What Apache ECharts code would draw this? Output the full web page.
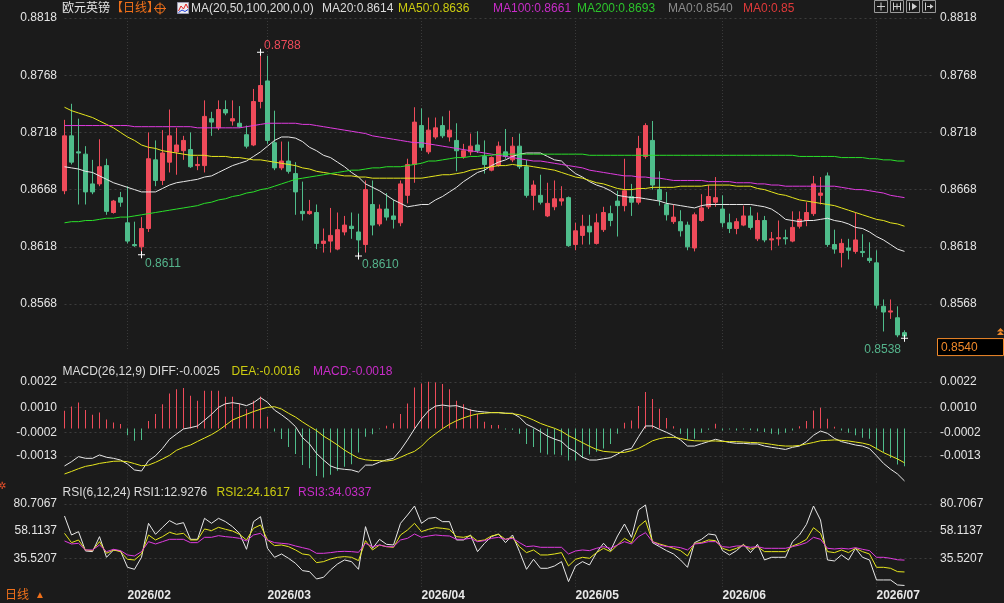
<!DOCTYPE html>
<html>
<head>
<meta charset="utf-8">
<script src="https://cdn.jsdelivr.net/npm/echarts@6/dist/echarts.min.js"></script>
<style>
html,body{margin:0;padding:0;background:#1b1b1b;}
#chart{width:1004px;height:603px;}
</style>
</head>
<body>
<div id="chart"></div>
<script>
// 交易日
const dates = [
  '2026/01/20','2026/01/21','2026/01/22','2026/01/23','2026/01/26','2026/01/27','2026/01/28','2026/01/29','2026/01/30',
  '2026/02/02','2026/02/03','2026/02/04','2026/02/05','2026/02/06','2026/02/09','2026/02/10','2026/02/11','2026/02/12','2026/02/13',
  '2026/02/16','2026/02/17','2026/02/18','2026/02/19','2026/02/20','2026/02/23','2026/02/24','2026/02/25','2026/02/26','2026/02/27',
  '2026/03/02','2026/03/03','2026/03/04','2026/03/05','2026/03/06','2026/03/09','2026/03/10','2026/03/11','2026/03/12','2026/03/13',
  '2026/03/16','2026/03/17','2026/03/18','2026/03/19','2026/03/20','2026/03/23','2026/03/24','2026/03/25','2026/03/26','2026/03/27',
  '2026/03/30','2026/03/31',
  '2026/04/01','2026/04/02','2026/04/03','2026/04/06','2026/04/07','2026/04/08','2026/04/09','2026/04/10','2026/04/13','2026/04/14',
  '2026/04/15','2026/04/16','2026/04/17','2026/04/20','2026/04/21','2026/04/22','2026/04/23','2026/04/24','2026/04/27','2026/04/28',
  '2026/04/29','2026/04/30',
  '2026/05/01','2026/05/04','2026/05/05','2026/05/06','2026/05/07','2026/05/08','2026/05/11','2026/05/12','2026/05/13','2026/05/14',
  '2026/05/15','2026/05/18','2026/05/19','2026/05/20','2026/05/21','2026/05/22','2026/05/25','2026/05/26','2026/05/27','2026/05/28',
  '2026/05/29',
  '2026/06/01','2026/06/02','2026/06/03','2026/06/04','2026/06/05','2026/06/08','2026/06/09','2026/06/10','2026/06/11','2026/06/12',
  '2026/06/15','2026/06/16','2026/06/17','2026/06/18','2026/06/19','2026/06/22','2026/06/23','2026/06/24','2026/06/25','2026/06/26',
  '2026/06/29','2026/06/30',
  '2026/07/01','2026/07/02','2026/07/03','2026/07/06','2026/07/07'
];

// K线
const opens = [
  0.8667,0.8715,0.8701,0.8699,0.8673,0.8673,0.8689,0.8648,0.8661,0.8639,
  0.8620,0.8618,0.8634,0.8694,0.8676,0.8692,0.8701,0.8702,0.8703,0.8689,
  0.8689,0.8730,0.8722,0.8738,0.8728,0.8726,0.8716,0.8707,0.8745,0.8763,
  0.8709,0.8687,0.8693,0.8682,0.8649,0.8647,0.8648,0.8621,0.8623,0.8616,
  0.8631,0.8636,0.8631,0.8620,0.8655,0.8638,0.8651,0.8645,0.8639,0.8663,
  0.8690,0.8724,0.8701,0.8714,0.8724,0.8714,0.8711,0.8697,0.8701,0.8707,
  0.8697,0.8685,0.8689,0.8701,0.8694,0.8706,0.8688,0.8663,0.8663,0.8645,
  0.8653,0.8658,0.8661,0.8620,0.8628,0.8636,0.8621,0.8633,0.8647,0.8658,
  0.8654,0.8662,0.8657,0.8697,0.8711,0.8668,0.8655,0.8640,0.8640,0.8637,
  0.8617,0.8641,0.8653,0.8657,0.8651,0.8639,0.8634,0.8637,0.8645,0.8625,
  0.8641,0.8624,0.8625,0.8626,0.8623,0.8636,0.8641,0.8647,0.8663,0.8680,
  0.8620,0.8613,0.8617,0.8614,0.8614,0.8608,0.8604,0.8566,0.8561,0.8556,
  0.8543
];
const closes = [
  0.8715,0.8692,0.8700,0.8666,0.8666,0.8688,0.8649,0.8658,0.8657,0.8623,
  0.8619,0.8634,0.8695,0.8676,0.8700,0.8715,0.8707,0.8711,0.8688,0.8690,
  0.8732,0.8727,0.8738,0.8735,0.8730,0.8723,0.8706,0.8745,0.8759,0.8711,
  0.8687,0.8693,0.8684,0.8666,0.8647,0.8649,0.8621,0.8623,0.8628,0.8633,
  0.8637,0.8634,0.8624,0.8668,0.8637,0.8651,0.8644,0.8642,0.8673,0.8690,
  0.8727,0.8705,0.8720,0.8722,0.8715,0.8720,0.8702,0.8702,0.8706,0.8702,
  0.8690,0.8696,0.8706,0.8697,0.8706,0.8688,0.8663,0.8672,0.8657,0.8656,
  0.8660,0.8660,0.8619,0.8632,0.8636,0.8631,0.8639,0.8648,0.8641,0.8654,
  0.8667,0.8657,0.8704,0.8724,0.8672,0.8659,0.8646,0.8644,0.8632,0.8618,
  0.8646,0.8652,0.8662,0.8661,0.8639,0.8634,0.8640,0.8645,0.8635,0.8641,
  0.8624,0.8625,0.8626,0.8625,0.8635,0.8642,0.8648,0.8673,0.8665,0.8620,
  0.8616,0.8621,0.8615,0.8624,0.8613,0.8606,0.8567,0.8561,0.8562,0.8541,
  0.8540
];
const lows = [
  0.8664,0.8690,0.8655,0.8655,0.8664,0.8671,0.8646,0.8647,0.8653,0.8621,
  0.8618,0.8611,0.8631,0.8671,0.8672,0.8683,0.8681,0.8694,0.8687,0.8685,
  0.8683,0.8715,0.8720,0.8733,0.8724,0.8722,0.8704,0.8706,0.8739,0.8708,
  0.8685,0.8685,0.8682,0.8646,0.8641,0.8646,0.8616,0.8613,0.8613,0.8615,
  0.8628,0.8625,0.8610,0.8613,0.8628,0.8636,0.8641,0.8634,0.8636,0.8656,
  0.8674,0.8702,0.8699,0.8712,0.8713,0.8710,0.8684,0.8695,0.8698,0.8700,
  0.8682,0.8684,0.8688,0.8695,0.8692,0.8686,0.8661,0.8650,0.8655,0.8644,
  0.8650,0.8654,0.8618,0.8615,0.8620,0.8620,0.8620,0.8631,0.8636,0.8627,
  0.8649,0.8645,0.8655,0.8695,0.8668,0.8654,0.8641,0.8638,0.8627,0.8615,
  0.8614,0.8640,0.8651,0.8653,0.8635,0.8630,0.8629,0.8636,0.8633,0.8623,
  0.8622,0.8615,0.8619,0.8620,0.8622,0.8634,0.8636,0.8645,0.8655,0.8618,
  0.8612,0.8600,0.8607,0.8612,0.8609,0.8604,0.8564,0.8544,0.8555,0.8539,
  0.8538
];
const highs = [
  0.8729,0.8743,0.8730,0.8706,0.8694,0.8712,0.8695,0.8659,0.8666,0.8671,
  0.8640,0.8644,0.8718,0.8711,0.8720,0.8738,0.8722,0.8715,0.8718,0.8697,
  0.8746,0.8736,0.8746,0.8746,0.8746,0.8741,0.8724,0.8756,0.8788,0.8785,
  0.8737,0.8710,0.8710,0.8692,0.8675,0.8659,0.8655,0.8634,0.8652,0.8648,
  0.8645,0.8648,0.8647,0.8676,0.8676,0.8655,0.8665,0.8659,0.8676,0.8695,
  0.8740,0.8739,0.8731,0.8731,0.8732,0.8737,0.8726,0.8708,0.8717,0.8719,
  0.8711,0.8697,0.8710,0.8721,0.8714,0.8717,0.8694,0.8676,0.8681,0.8674,
  0.8676,0.8671,0.8662,0.8639,0.8646,0.8646,0.8647,0.8653,0.8654,0.8667,
  0.8695,0.8673,0.8715,0.8726,0.8728,0.8684,0.8666,0.8655,0.8650,0.8640,
  0.8648,0.8664,0.8672,0.8679,0.8663,0.8647,0.8643,0.8654,0.8653,0.8648,
  0.8645,0.8631,0.8641,0.8633,0.8649,0.8649,0.8657,0.8680,0.8679,0.8683,
  0.8633,0.8625,0.8625,0.8648,0.8629,0.8622,0.8615,0.8572,0.8572,0.8566,
  0.8545
];

// 均线
const ma20 = [
  0.8688,0.8687,0.8686,0.8684,0.8683,0.8680,0.8677,0.8674,0.8672,0.8670,
  0.8668,0.8666,0.8666,0.8666,0.8669,0.8672,0.8674,0.8675,0.8676,0.8677,
  0.8679,0.8680,0.8683,0.8686,0.8689,0.8691,0.8693,0.8697,0.8701,0.8706,
  0.8711,0.8714,0.8714,0.8713,0.8710,0.8705,0.8702,0.8698,0.8696,0.8692,
  0.8688,0.8683,0.8679,0.8673,0.8670,0.8667,0.8663,0.8659,0.8656,0.8653,
  0.8654,0.8655,0.8655,0.8659,0.8662,0.8666,0.8670,0.8675,0.8679,0.8683,
  0.8685,0.8689,0.8692,0.8694,0.8697,0.8699,0.8700,0.8700,0.8700,0.8697,
  0.8694,0.8693,0.8687,0.8682,0.8679,0.8675,0.8672,0.8670,0.8667,0.8663,
  0.8662,0.8661,0.8661,0.8660,0.8659,0.8658,0.8656,0.8655,0.8654,0.8653,
  0.8652,0.8654,0.8655,0.8655,0.8655,0.8655,0.8655,0.8655,0.8655,0.8654,
  0.8653,0.8651,0.8647,0.8642,0.8641,0.8640,0.8641,0.8641,0.8642,0.8643,
  0.8641,0.8640,0.8638,0.8635,0.8634,0.8631,0.8627,0.8624,0.8620,0.8616,
  0.8614
];
const ma50 = [
  0.8740,0.8737,0.8735,0.8733,0.8731,0.8728,0.8725,0.8722,0.8718,0.8714,
  0.8711,0.8707,0.8705,0.8704,0.8702,0.8701,0.8700,0.8699,0.8698,0.8698,
  0.8698,0.8697,0.8697,0.8697,0.8696,0.8696,0.8695,0.8694,0.8694,0.8693,
  0.8692,0.8691,0.8690,0.8689,0.8687,0.8686,0.8684,0.8683,0.8682,0.8681,
  0.8680,0.8680,0.8679,0.8679,0.8678,0.8678,0.8678,0.8678,0.8678,0.8678,
  0.8678,0.8678,0.8679,0.8680,0.8681,0.8681,0.8682,0.8683,0.8685,0.8686,
  0.8687,0.8688,0.8689,0.8689,0.8690,0.8689,0.8689,0.8688,0.8687,0.8686,
  0.8685,0.8683,0.8681,0.8679,0.8678,0.8676,0.8674,0.8673,0.8671,0.8669,
  0.8668,0.8668,0.8669,0.8669,0.8670,0.8670,0.8670,0.8670,0.8671,0.8671,
  0.8671,0.8671,0.8672,0.8672,0.8672,0.8672,0.8671,0.8671,0.8671,0.8669,
  0.8668,0.8666,0.8664,0.8663,0.8661,0.8659,0.8658,0.8657,0.8656,0.8655,
  0.8654,0.8652,0.8650,0.8648,0.8646,0.8644,0.8642,0.8641,0.8639,0.8638,
  0.8636
];
const ma100 = [
  0.8724,0.8724,0.8724,0.8724,0.8724,0.8724,0.8724,0.8724,0.8724,0.8724,
  0.8723,0.8723,0.8723,0.8723,0.8723,0.8723,0.8723,0.8723,0.8723,0.8722,
  0.8722,0.8722,0.8722,0.8722,0.8722,0.8722,0.8723,0.8724,0.8725,0.8726,
  0.8726,0.8726,0.8726,0.8726,0.8725,0.8725,0.8724,0.8723,0.8722,0.8721,
  0.8720,0.8719,0.8718,0.8717,0.8715,0.8714,0.8713,0.8712,0.8711,0.8710,
  0.8709,0.8709,0.8708,0.8707,0.8706,0.8705,0.8704,0.8703,0.8702,0.8701,
  0.8700,0.8699,0.8698,0.8697,0.8696,0.8695,0.8694,0.8693,0.8693,0.8692,
  0.8691,0.8690,0.8689,0.8688,0.8687,0.8685,0.8684,0.8683,0.8682,0.8681,
  0.8680,0.8680,0.8679,0.8679,0.8678,0.8678,0.8677,0.8676,0.8676,0.8676,
  0.8676,0.8676,0.8675,0.8675,0.8675,0.8675,0.8674,0.8674,0.8674,0.8673,
  0.8673,0.8672,0.8672,0.8671,0.8671,0.8671,0.8671,0.8671,0.8671,0.8671,
  0.8671,0.8670,0.8669,0.8668,0.8668,0.8667,0.8666,0.8665,0.8663,0.8662,
  0.8661
];
const ma200 = [
  0.8639,0.8640,0.8640,0.8641,0.8641,0.8642,0.8643,0.8643,0.8644,0.8644,
  0.8645,0.8646,0.8647,0.8648,0.8649,0.8650,0.8651,0.8652,0.8653,0.8654,
  0.8656,0.8657,0.8659,0.8660,0.8662,0.8663,0.8665,0.8666,0.8668,0.8669,
  0.8671,0.8673,0.8675,0.8677,0.8678,0.8679,0.8680,0.8681,0.8682,0.8683,
  0.8684,0.8685,0.8685,0.8686,0.8687,0.8687,0.8688,0.8688,0.8688,0.8689,
  0.8690,0.8691,0.8693,0.8693,0.8694,0.8695,0.8696,0.8696,0.8697,0.8697,
  0.8698,0.8698,0.8699,0.8699,0.8699,0.8699,0.8699,0.8699,0.8699,0.8699,
  0.8699,0.8699,0.8699,0.8699,0.8699,0.8698,0.8698,0.8698,0.8698,0.8698,
  0.8698,0.8698,0.8698,0.8698,0.8698,0.8698,0.8698,0.8698,0.8698,0.8698,
  0.8698,0.8698,0.8698,0.8698,0.8698,0.8698,0.8698,0.8698,0.8698,0.8698,
  0.8698,0.8698,0.8698,0.8698,0.8698,0.8697,0.8697,0.8697,0.8697,0.8697,
  0.8697,0.8696,0.8696,0.8696,0.8696,0.8695,0.8695,0.8694,0.8694,0.8693,
  0.8693
];

// MACD(26,12,9)
const diff = [
  -0.00177,-0.00157,-0.00133,-0.00141,-0.00141,-0.00125,-0.00136,-0.00141,-0.00149,-0.00168,
  -0.00196,-0.00201,-0.00152,-0.00129,-0.00094,-0.00051,-0.00026,-0.00002,0.00004,0.00012,
  0.00039,0.00067,0.00100,0.00117,0.00122,0.00117,0.00108,0.00122,0.00146,0.00124,
  0.00087,0.00065,0.00040,0.00009,-0.00043,-0.00073,-0.00118,-0.00149,-0.00177,-0.00189,
  -0.00193,-0.00196,-0.00206,-0.00173,-0.00173,-0.00159,-0.00148,-0.00141,-0.00102,-0.00054,
  -0.00002,0.00045,0.00084,0.00106,0.00111,0.00106,0.00108,0.00098,0.00087,0.00081,
  0.00078,0.00075,0.00075,0.00072,0.00072,0.00053,0.00020,0.00004,-0.00015,-0.00036,
  -0.00050,-0.00061,-0.00092,-0.00110,-0.00136,-0.00149,-0.00149,-0.00143,-0.00138,-0.00121,
  -0.00102,-0.00094,-0.00039,0.00012,0.00012,-0.00004,-0.00018,-0.00034,-0.00054,-0.00083,
  -0.00083,-0.00072,-0.00062,-0.00051,-0.00059,-0.00066,-0.00070,-0.00070,-0.00073,-0.00073,
  -0.00083,-0.00089,-0.00094,-0.00099,-0.00089,-0.00083,-0.00062,-0.00032,-0.00012,-0.00023,
  -0.00047,-0.00062,-0.00070,-0.00078,-0.00083,-0.00095,-0.00129,-0.00165,-0.00192,-0.00215,
  -0.00248
];
const dea = [
  -0.00215,-0.00203,-0.00190,-0.00179,-0.00173,-0.00165,-0.00160,-0.00155,-0.00154,-0.00157,
  -0.00166,-0.00176,-0.00173,-0.00160,-0.00144,-0.00127,-0.00103,-0.00089,-0.00078,-0.00061,
  -0.00045,-0.00029,-0.00009,0.00015,0.00040,0.00054,0.00067,0.00080,0.00091,0.00100,
  0.00103,0.00092,0.00072,0.00054,0.00031,0.00010,-0.00010,-0.00036,-0.00056,-0.00078,
  -0.00102,-0.00122,-0.00140,-0.00148,-0.00151,-0.00152,-0.00154,-0.00149,-0.00136,-0.00121,
  -0.00108,-0.00084,-0.00050,-0.00025,-0.00001,0.00020,0.00037,0.00050,0.00061,0.00069,
  0.00072,0.00075,0.00075,0.00072,0.00070,0.00065,0.00054,0.00040,0.00024,0.00012,
  0.00001,-0.00013,-0.00034,-0.00050,-0.00067,-0.00084,-0.00099,-0.00108,-0.00111,-0.00113,
  -0.00113,-0.00105,-0.00094,-0.00077,-0.00058,-0.00048,-0.00042,-0.00042,-0.00047,-0.00054,
  -0.00058,-0.00059,-0.00059,-0.00059,-0.00061,-0.00062,-0.00062,-0.00064,-0.00066,-0.00067,
  -0.00070,-0.00075,-0.00080,-0.00083,-0.00083,-0.00080,-0.00073,-0.00066,-0.00058,-0.00056,
  -0.00054,-0.00056,-0.00059,-0.00064,-0.00069,-0.00077,-0.00095,-0.00114,-0.00129,-0.00144,
  -0.00162
];
const macdHist = [
  0.00084,0.00104,0.00123,0.00088,0.00065,0.00076,0.00043,0.00028,0.00021,-0.00032,
  -0.00058,-0.00054,0.00036,0.00068,0.00115,0.00166,0.00186,0.00191,0.00155,0.00131,
  0.00178,0.00178,0.00178,0.00150,0.00150,0.00118,0.00091,0.00131,0.00151,0.00055,
  -0.00014,-0.00050,-0.00087,-0.00121,-0.00172,-0.00188,-0.00224,-0.00232,-0.00219,-0.00200,
  -0.00181,-0.00169,-0.00114,-0.00039,-0.00027,-0.00003,0.00013,0.00025,0.00068,0.00118,
  0.00194,0.00213,0.00221,0.00218,0.00210,0.00186,0.00131,0.00115,0.00091,0.00068,
  0.00032,0.00016,0.00016,-0.00005,-0.00006,-0.00025,-0.00073,-0.00088,-0.00115,-0.00123,
  -0.00123,-0.00126,-0.00151,-0.00151,-0.00139,-0.00123,-0.00110,-0.00095,-0.00073,-0.00025,
  0.00027,0.00038,0.00106,0.00173,0.00140,0.00093,0.00050,0.00011,-0.00025,-0.00052,
  -0.00049,-0.00020,-0.00006,0.00022,-0.00009,-0.00005,-0.00009,-0.00005,-0.00008,-0.00013,
  -0.00016,-0.00025,-0.00028,-0.00020,-0.00009,0.00011,0.00035,0.00085,0.00098,0.00046,
  0.00008,-0.00009,-0.00020,-0.00032,-0.00044,-0.00049,-0.00099,-0.00112,-0.00139,-0.00170,
  -0.00178
];

// RSI(6,12,24)
const rsi1 = [
  70.73,54.93,57.70,41.62,41.07,53.54,36.36,42.45,41.62,28.04,
  26.37,36.36,64.63,55.48,61.30,66.85,63.80,65.18,51.32,51.32,
  68.79,64.63,68.79,66.01,61.86,56.31,43.01,66.01,70.17,43.84,
  36.36,39.13,35.52,31.37,25.27,24.44,18.34,19.72,25.82,30.81,
  34.14,32.75,26.37,61.86,43.84,51.32,47.16,46.61,64.63,71.56,
  79.04,64.63,68.79,69.62,66.01,66.01,50.77,50.77,54.93,41.07,
  48.00,53.54,55.76,48.55,54.93,41.07,26.37,34.69,27.21,27.21,
  29.15,32.75,16.12,29.15,32.75,29.98,40.24,48.00,41.90,54.09,
  64.07,52.98,75.72,79.87,48.55,45.22,41.90,39.13,34.14,28.04,
  48.55,51.32,55.76,54.93,41.90,38.30,41.90,47.16,40.24,47.16,
  34.14,36.36,36.36,36.36,49.38,54.93,63.80,79.04,67.40,34.14,
  33.31,38.30,34.14,43.84,36.36,34.14,17.50,17.50,17.50,13.35,
  12.93
];
const rsi2 = [
  56.31,48.55,50.77,42.45,41.90,49.38,39.68,42.45,41.07,34.69,
  34.14,39.13,54.93,50.77,53.54,57.14,55.48,56.31,50.77,50.77,
  59.92,58.53,61.30,59.64,58.25,55.48,50.77,60.47,63.24,50.77,
  46.06,46.61,45.22,42.45,39.13,38.30,31.92,32.75,34.97,36.36,
  36.91,36.36,33.58,50.21,42.45,46.61,45.22,44.67,54.93,59.08,
  64.63,57.70,59.64,61.02,60.47,59.64,53.54,52.98,54.37,49.94,
  50.77,54.09,55.48,51.32,52.98,45.22,40.24,42.45,38.30,38.30,
  39.13,40.24,29.15,34.69,36.36,35.52,40.24,43.84,41.07,46.61,
  52.15,48.55,61.86,66.85,49.38,47.44,45.78,43.84,41.90,37.46,
  48.00,48.55,50.77,50.21,43.84,41.90,43.84,46.61,43.01,45.22,
  41.07,41.07,41.07,41.07,45.78,48.00,51.32,61.02,56.31,41.07,
  40.24,42.45,40.24,43.84,41.07,39.13,28.04,28.04,27.21,24.44,
  24.16
];
const rsi3 = [
  49.94,47.44,48.00,42.45,42.45,46.61,41.07,43.01,41.90,38.30,
  37.46,41.07,49.38,47.44,49.38,51.32,51.32,51.32,48.55,48.55,
  52.98,52.98,54.37,53.54,52.98,52.15,49.94,54.93,56.31,50.77,
  48.55,48.00,47.44,45.78,44.39,43.01,39.68,39.68,40.24,41.07,
  41.34,41.07,40.51,48.00,45.22,46.61,45.22,45.22,50.77,52.15,
  55.76,52.98,54.09,54.93,54.37,54.09,51.32,51.32,52.15,49.38,
  50.21,52.15,52.98,51.32,52.15,48.55,45.22,45.78,44.67,44.67,
  44.67,44.67,39.13,41.62,42.45,41.90,43.84,45.22,43.84,46.61,
  49.38,47.44,53.54,56.87,49.38,46.61,45.22,45.22,44.39,42.45,
  47.44,48.00,49.38,49.38,45.22,44.67,45.78,45.78,44.67,45.22,
  43.84,43.84,43.84,43.84,45.22,46.61,48.55,52.98,51.32,43.84,
  43.28,43.84,43.28,44.39,43.01,41.90,36.36,36.36,35.52,34.30,
  34.03
];

// 刻度
const priceTicks = [0.8568, 0.8618, 0.8668, 0.8718, 0.8768, 0.8818];
const macdTicks = [-0.0013, -0.0002, 0.0010, 0.0022];
const rsiTicks = [35.5207, 58.1137, 80.7067];
// 标注的高低点
const highMarks = [28];
const lowMarks = [11, 42];

const UP = '#ee4b5a', DOWN = '#4fbd8b';
const FONT = '"Liberation Sans","Noto Sans CJK SC",sans-serif';
const last = closes.length - 1;

const candles = opens.map((o, i) => [o, closes[i], lows[i], highs[i]]);
const monthStart = new Set();
dates.forEach((d, i) => { if (i > 0 && d.slice(0, 7) !== dates[i - 1].slice(0, 7)) monthStart.add(i); });
const isMonthStart = idx => monthStart.has(idx);

const chart = echarts.init(document.getElementById('chart'));

function xAxisFor(grid, showLabel) {
  return {
    type: 'category', gridIndex: grid, data: dates, boundaryGap: false, max: 124,
    axisLine: {show: false}, axisTick: {show: false},
    axisLabel: {
      show: showLabel, interval: isMonthStart, formatter: v => v.slice(0, 7),
      align: 'left', margin: 1, color: '#e8e8e8', fontWeight: 'bold', fontSize: 12, fontFamily: FONT
    },
    splitLine: {show: true, interval: isMonthStart, lineStyle: {color: '#3a3a3a', type: [1, 2]}}
  };
}
function yAxisFor(grid, pos, min, max, ticks, split) {
  return {
    type: 'value', gridIndex: grid, position: pos, min: min, max: max,
    axisLine: {show: false},
    axisTick: {show: false, customValues: ticks},
    axisLabel: {
      customValues: ticks, formatter: v => v.toFixed(4), margin: pos === 'left' ? 7.5 : 7.5,
      color: '#e4e4e4', fontSize: 12, fontFamily: FONT
    },
    splitLine: {show: split, lineStyle: {color: '#3c3c3c', type: [2, 3]}}
  };
}
function line(name, data, color, xi, yi) {
  return {name, type: 'line', data, xAxisIndex: xi, yAxisIndex: yi, symbol: 'none',
    lineStyle: {color, width: 1}, silent: true, z: 3};
}

const cross = 'path://M3,0h1v7h-1zM0,3h7v1h-7z';
const markData = [];
highMarks.forEach(i => markData.push({coord: [dates[i], highs[i]], value: highs[i].toFixed(4),
  label: {position: 'right', distance: 1, offset: [-1, -7], color: UP}}));
lowMarks.forEach(i => markData.push({coord: [dates[i], lows[i]], value: lows[i].toFixed(4),
  label: {position: 'right', distance: 1, offset: [-1, 9], color: '#55b48c'}}));
markData.push({coord: [dates[last], lows[last]], value: lows[last].toFixed(4),
  label: {position: 'left', distance: 1, offset: [1, 11], color: '#55b48c'}});

const grids = [
  {left: 64.5, right: 71.5, top: 18, height: 331.8},
  {left: 64.5, right: 71.5, top: 373.5, height: 110},
  {left: 64.5, right: 71.5, top: 492.83, height: 96.15}
];

chart.setOption({
  backgroundColor: '#1b1b1b',
  animation: false,
  grid: grids,
  xAxis: [xAxisFor(0, false), xAxisFor(1, false), xAxisFor(2, true)],
  yAxis: [
    yAxisFor(0, 'left', 0.8528, 0.8818, priceTicks, true),
    yAxisFor(0, 'right', 0.8528, 0.8818, priceTicks, false),
    yAxisFor(1, 'left', -0.0026, 0.0026, macdTicks, true),
    yAxisFor(1, 'right', -0.0026, 0.0026, macdTicks, false),
    yAxisFor(2, 'left', 10, 90, rsiTicks, true),
    yAxisFor(2, 'right', 10, 90, rsiTicks, false)
  ],
  series: [
    {
      type: 'candlestick', data: candles, xAxisIndex: 0, yAxisIndex: 0, barWidth: 5, clip: false,
      itemStyle: {color: UP, color0: DOWN, borderColor: UP, borderColor0: DOWN, borderWidth: 1},
      silent: true, z: 2,
      markPoint: {
        symbol: cross, symbolSize: 7, itemStyle: {color: '#ffffff'}, silent: true,
        label: {show: true, formatter: '{c}', fontSize: 12, fontFamily: FONT},
        data: markData
      },
      markLine: {
        symbol: ['none', 'none'], silent: true, label: {show: false},
        lineStyle: {color: '#f08a24', type: [4, 3], width: 1},
        data: [{yAxis: closes[last]}]
      }
    },
    line('MA20', ma20, '#e8e8e8', 0, 0),
    line('MA50', ma50, '#e6e61e', 0, 0),
    line('MA100', ma100, '#e03ce0', 0, 0),
    line('MA200', ma200, '#2ae02a', 0, 0),
    {
      type: 'bar', data: macdHist, xAxisIndex: 1, yAxisIndex: 2, barWidth: 1, silent: true,
      itemStyle: {color: p => p.value >= 0 ? UP : DOWN}
    },
    line('DIFF', diff, '#e8e8e8', 1, 2),
    line('DEA', dea, '#e6e61e', 1, 2),
    line('RSI1', rsi1, '#e8e8e8', 2, 4),
    line('RSI2', rsi2, '#e6e61e', 2, 4),
    line('RSI3', rsi3, '#e03ce0', 2, 4)
  ]
});

function txt(x, y, text, color, size, weight) {
  return {type: 'text', x: x, y: y, silent: true,
    style: {text: text, fill: color, font: (weight || 'normal') + ' ' + (size || 12) + 'px ' + FONT, verticalAlign: 'middle'}};
}
function seg(x1, y1, x2, y2, color) {
  return {type: 'line', silent: true, shape: {x1, y1, x2, y2}, style: {stroke: color, lineWidth: 1}};
}

const pY = chart.convertToPixel({yAxisIndex: 0}, closes[last]);
const g = [
  // 标题行
  txt(62, 8.5, '欧元英镑', '#e6e6e6'),
  txt(111, 8.5, '【日线】', '#f0701a'),
  {type: 'circle', silent: true, shape: {cx: 160, cy: 8.5, r: 4.5}, style: {fill: 'none', stroke: '#f0701a', lineWidth: 1}},
  seg(154, 8.5, 166, 8.5, '#f0701a'), seg(160, 2.5, 160, 14.5, '#f0701a'),
  {type: 'rect', silent: true, shape: {x: 177.5, y: 2.5, width: 11, height: 11}, style: {fill: '#eeeeee', stroke: '#9a9ab0', lineWidth: 1}},
  {type: 'polyline', silent: true, shape: {points: [[178.5, 11], [181, 6], [183.5, 9], [186, 4], [188, 8]]}, style: {stroke: '#e02020', fill: 'none', lineWidth: 1}},
  {type: 'polyline', silent: true, shape: {points: [[178.5, 12.5], [182, 10], [185, 11.5], [188, 9.5]]}, style: {stroke: '#2040e0', fill: 'none', lineWidth: 1}},
  txt(191, 8.5, 'MA(20,50,100,200,0,0)', '#dcdcdc'),
  txt(322, 8.5, 'MA20:0.8614', '#dcdcdc'),
  txt(398, 8.5, 'MA50:0.8636', '#cccc10'),
  txt(493, 8.5, 'MA100:0.8661', '#c82cc8'),
  txt(577, 8.5, 'MA200:0.8693', '#2cc42c'),
  txt(668, 8.5, 'MA0:0.8540', '#8c8c8c'),
  txt(743, 8.5, 'MA0:0.85', '#e03a3a'),
  // 指标标题
  txt(62.5, 371.7, 'MACD(26,12,9) DIFF:-0.0025', '#dcdcdc'),
  txt(231.5, 371.7, 'DEA:-0.0016', '#cccc10'),
  txt(313, 371.7, 'MACD:-0.0018', '#c82cc8'),
  txt(62.5, 492.7, 'RSI(6,12,24) RSI1:12.9276', '#dcdcdc'),
  txt(216.5, 492.7, 'RSI2:24.1617', '#cccc10'),
  txt(298, 492.7, 'RSI3:34.0337', '#c82cc8'),
  // 左侧小图标与左下
  txt(-2, 486, '✲', '#e8502a', 10),
  txt(5, 596, '日线', '#f0701a'),
  txt(35, 595, '▲', '#f0701a', 10),
  // 最新价
  {type: 'rect', silent: true, shape: {x: 937.5, y: pY + 2.5, width: 66, height: 17}, style: {fill: '#000000', stroke: '#f0892a', lineWidth: 1}},
  txt(941, pY + 11.5, closes[last].toFixed(4), '#f0892a'),
  {type: 'polygon', silent: true, shape: {points: [[997, pY - 1], [1000.5, pY - 4.5], [1004, pY - 1]]}, style: {fill: '#f0892a'}},
  {type: 'polygon', silent: true, shape: {points: [[997, pY - 4.5], [1000.5, pY - 8], [1004, pY - 4.5]]}, style: {fill: '#f0892a'}}
];
// 右上角按钮
[874, 890, 906, 922].forEach((x, k) => {
  g.push({type: 'rect', silent: true, shape: {x: x + 0.5, y: 0.5, width: 13, height: 12}, style: {fill: '#1b1b1b', stroke: '#9a9a9a', lineWidth: 1}});
  if (k === 0) { g.push(seg(x + 3, 6.5, x + 11, 6.5, '#cfcfcf'), seg(x + 7, 2.5, x + 7, 10.5, '#cfcfcf')); }
  if (k === 1) { g.push(seg(x + 3.5, 2.5, x + 3.5, 10.5, '#cfcfcf'), seg(x + 10.5, 2.5, x + 10.5, 10.5, '#cfcfcf'), seg(x + 4, 6.5, x + 10, 6.5, '#cfcfcf'), seg(x + 7, 3.5, x + 7, 9.5, '#cfcfcf')); }
  if (k === 2) { g.push(seg(x + 3.5, 2.5, x + 3.5, 10.5, '#cfcfcf'), {type: 'polygon', silent: true, shape: {points: [[x + 6, 3], [x + 11, 6.5], [x + 6, 10]]}, style: {fill: '#cfcfcf'}}); }
  if (k === 3) { g.push(seg(x + 3.5, 2.5, x + 3.5, 10.5, '#cfcfcf'), seg(x + 5, 6.5, x + 11, 6.5, '#cfcfcf'), {type: 'polygon', silent: true, shape: {points: [[x + 8, 4], [x + 11.5, 6.5], [x + 8, 9]]}, style: {fill: '#cfcfcf'}}); }
});
chart.setOption({graphic: g});
</script>
</body>
</html>
